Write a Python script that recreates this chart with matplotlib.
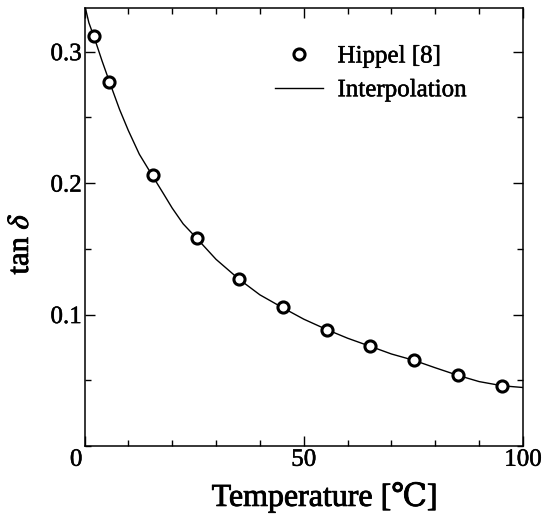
import numpy as np
import matplotlib
matplotlib.use('Agg')
import matplotlib.pyplot as plt
import matplotlib.patheffects as pe
from matplotlib.ticker import MultipleLocator

plt.rcParams['font.family'] = ['Liberation Serif', 'DejaVu Serif', 'DejaVu Sans']
plt.rcParams['mathtext.fontset'] = 'stix'

# measured points (Hippel [8])
temp = [2.2, 5.7, 15.6, 25.6, 35.2, 45.3, 55.3, 65.2, 75.1, 85.2, 95.3]
tand = [0.312, 0.277, 0.206, 0.158, 0.127, 0.1055, 0.0885, 0.0758, 0.0654, 0.0537, 0.0458]

# interpolation curve
curve_t = [0, 1, 2.2, 4, 5.7, 8, 10, 12.5, 15.6, 18, 20, 22.5, 25.6, 30, 35.2, 40,
           45.3, 50, 55.3, 60, 65.2, 70, 75.1, 80, 85.2, 90, 95.3, 100]
curve_v = [0.336, 0.322, 0.311, 0.293, 0.277, 0.256, 0.240, 0.222, 0.205, 0.192,
           0.181, 0.169, 0.158, 0.142, 0.127, 0.115, 0.105, 0.0965, 0.0885, 0.082,
           0.0758, 0.070, 0.0652, 0.0595, 0.0537, 0.049, 0.0458, 0.0445]

# scanned print looks a bit heavier than plain Times
light = [pe.withStroke(linewidth=0.35, foreground='black')]
heavy = [pe.withStroke(linewidth=0.6, foreground='black')]

fig = plt.figure(figsize=(5.54, 5.17), dpi=100)
ax = fig.add_axes([84.5/554, 1-446/517, (523-84.5)/554, (446-8.3)/517])

ax.plot(curve_t, curve_v, '-', color='black', lw=1.0, label='Interpolation')
ax.plot(temp, tand, 'o', mfc='white', mec='black', ms=8, mew=2.2,
        label='Hippel [8]', zorder=3)

ax.set_xlim(0, 100)
ax.set_ylim(0, 0.333)
ax.xaxis.set_major_locator(MultipleLocator(50))
ax.xaxis.set_minor_locator(MultipleLocator(10))
ax.yaxis.set_major_locator(MultipleLocator(0.1))
ax.yaxis.set_minor_locator(MultipleLocator(0.05))
ax.tick_params(which='both', direction='in', top=True, right=True,
               labelsize=18, pad=2, width=1)
ax.tick_params(which='major', length=7)
ax.tick_params(which='minor', length=4)
ax.set_xticks([0, 50, 100])
ax.set_xticklabels(['', '50', '100'])
ax.set_yticks([0.1, 0.2, 0.3])
ax.set_yticklabels(['0.1', '0.2', '0.3'])
for s in ax.spines.values():
    s.set_linewidth(1.1)
zero = ax.annotate('0', xy=(0, 0), xytext=(-6, -2), textcoords='offset points',
                   ha='center', va='top', fontsize=18)

ax.set_xlabel('Temperature [℃]', fontsize=23)
ax.xaxis.set_label_coords(0.548, -0.082)
ax.set_ylabel(r'tan $\delta$', fontsize=22)
ax.yaxis.set_label_coords(-0.113, 0.4615)

h, l = ax.get_legend_handles_labels()
leg = ax.legend(h[::-1], l[::-1], loc='upper left', bbox_to_anchor=(275/554, 1-45/517),
                bbox_transform=fig.transFigure, frameon=False, fontsize=18,
                numpoints=1, handlelength=1.9, handletextpad=0.6, labelspacing=0.45,
                borderpad=0, borderaxespad=0)

for t in ax.get_xticklabels() + ax.get_yticklabels() + leg.get_texts() + [zero]:
    t.set_path_effects(light)
for t in [ax.xaxis.label, ax.yaxis.label]:
    t.set_path_effects(heavy)

fig.savefig('out.png', dpi=100)
